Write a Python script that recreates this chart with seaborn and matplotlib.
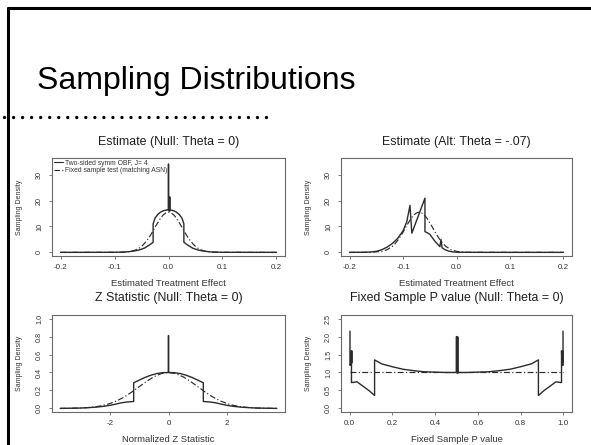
import numpy as np
import pandas as pd
import matplotlib
matplotlib.use('Agg')
import matplotlib.pyplot as plt
import seaborn as sns
from matplotlib.lines import Line2D

sns.set_style('white')
plt.rcParams['font.family'] = ['Liberation Sans', 'DejaVu Sans']
plt.rcParams['axes.unicode_minus'] = False

# --- valores ---
# Estimate (Null: Theta = 0)
null_solid_x = [-0.2, -0.15, -0.1, -0.08, -0.07, -0.062, -0.055, -0.045, -0.035, -0.0285, -0.0285,
                -0.025, -0.02, -0.015, -0.01, -0.005, 0.0, 0.0, 0.0, 0.005, 0.01, 0.015, 0.02, 0.025,
                0.0285, 0.0285, 0.035, 0.045, 0.055, 0.062, 0.07, 0.08, 0.1, 0.15, 0.2]
null_solid_y = [0, 0.01, 0.03, 0.15, 0.35, 0.6, 0.9, 1.6, 2.9, 3.9, 11.0,
                13.2, 14.6, 15.5, 16.0, 16.3, 16.4, 34.0, 16.4, 16.3, 16.0, 15.5, 14.6, 13.2,
                11.0, 3.9, 2.9, 1.6, 0.9, 0.6, 0.35, 0.15, 0.03, 0.01, 0]
null_thick_x = [0.0, 0.0]
null_thick_y = [16.4, 21.5]
null_dash_x = [-0.2, -0.09, -0.08, -0.07, -0.065, -0.06, -0.055, -0.05, -0.045, -0.04, -0.035, -0.03,
               -0.025, -0.02, -0.015, -0.01, -0.005, 0.0, 0.005, 0.01, 0.015, 0.02, 0.025, 0.03,
               0.035, 0.04, 0.045, 0.05, 0.055, 0.06, 0.065, 0.07, 0.08, 0.09, 0.2]
null_dash_y = [0, 0.03, 0.12, 0.38, 0.63, 1.0, 1.57, 2.3, 3.35, 4.6, 6.1, 7.8,
               9.7, 11.4, 13.1, 14.4, 15.2, 15.5, 15.2, 14.4, 13.1, 11.4, 9.7, 7.8,
               6.1, 4.6, 3.35, 2.3, 1.57, 1.0, 0.63, 0.38, 0.12, 0.03, 0]

# Estimate (Alt: Theta = -.07)
alt_solid_x = [-0.2, -0.17, -0.16, -0.15, -0.14, -0.13, -0.12, -0.11, -0.10, -0.093, -0.087, -0.0835,
               -0.059, -0.059, -0.055, -0.05, -0.045, -0.04, -0.035, -0.031, -0.029, -0.027, -0.022,
               -0.015, -0.008, 0.0, 0.05, 0.1, 0.15, 0.2]
alt_solid_y = [0, 0.05, 0.15, 0.4, 1.0, 2.0, 3.4, 5.4, 8.3, 11.8, 18.1, 7.4,
               20.9, 8.0, 7.6, 7.0, 5.6, 4.2, 3.1, 2.2, 5.0, 1.8, 1.1,
               0.5, 0.2, 0.05, 0, 0, 0, 0]
alt_dash_x = [-0.2, -0.16, -0.14, -0.13, -0.12, -0.115, -0.11, -0.105, -0.1, -0.095, -0.09, -0.085,
              -0.08, -0.075, -0.07, -0.065, -0.06, -0.055, -0.05, -0.045, -0.04, -0.035, -0.03,
              -0.025, -0.02, -0.01, 0.0, 0.02, 0.2]
alt_dash_y = [0, 0.03, 0.38, 1.0, 2.3, 3.35, 4.6, 6.1, 7.8, 9.7, 11.4, 13.1,
              14.4, 15.2, 15.5, 15.2, 14.4, 13.1, 11.4, 9.7, 7.8, 6.1, 4.6,
              3.35, 2.3, 1.0, 0.38, 0.03, 0]

# Z Statistic (Null: Theta = 0)
z_solid_x = [-3.7, -3.0, -2.5, -2.2, -2.0, -1.8, -1.6, -1.4, -1.19, -1.19, -1.0, -0.8, -0.6, -0.4,
             -0.2, 0.0, 0.0, 0.0, 0.2, 0.4, 0.6, 0.8, 1.0, 1.19, 1.19, 1.4, 1.6, 1.8, 2.0, 2.2,
             2.5, 3.0, 3.7]
z_solid_y = [0.0, 0.004, 0.013, 0.024, 0.034, 0.048, 0.063, 0.072, 0.077, 0.285, 0.315, 0.345, 0.37, 0.388,
             0.398, 0.40, 0.81, 0.40, 0.398, 0.388, 0.37, 0.345, 0.315, 0.285, 0.077, 0.072, 0.063, 0.048, 0.034, 0.024,
             0.013, 0.004, 0.0]
z_dash_x = [-3.7, -3.5, -3.25, -3.0, -2.75, -2.5, -2.25, -2.0, -1.75, -1.5, -1.25, -1.0, -0.75, -0.5,
            -0.25, 0.0, 0.25, 0.5, 0.75, 1.0, 1.25, 1.5, 1.75, 2.0, 2.25, 2.5, 2.75, 3.0, 3.25,
            3.5, 3.7]
z_dash_y = [0.0004, 0.0009, 0.002, 0.0044, 0.009, 0.018, 0.032, 0.054, 0.086, 0.130, 0.183, 0.242, 0.301, 0.352,
            0.387, 0.399, 0.387, 0.352, 0.301, 0.242, 0.183, 0.130, 0.086, 0.054, 0.032, 0.018, 0.009, 0.0044, 0.002,
            0.0009, 0.0004]

# Fixed Sample P value (Null: Theta = 0)
p_solid_x = [0.002, 0.002, 0.006, 0.009, 0.009, 0.012, 0.035, 0.06, 0.09, 0.117, 0.117, 0.15, 0.2,
             0.25, 0.3, 0.35, 0.4, 0.45, 0.5, 0.5, 0.5, 0.55, 0.6, 0.65, 0.7, 0.75, 0.8, 0.85,
             0.883, 0.883, 0.91, 0.94, 0.965, 0.988, 0.991, 0.991, 0.994, 0.998, 0.998]
p_solid_y = [2.15, 1.2, 1.25, 1.6, 0.72, 0.72, 0.74, 0.63, 0.5, 0.36, 1.35, 1.24, 1.16,
             1.09, 1.05, 1.02, 1.01, 1.0, 1.0, 2.0, 1.0, 1.0, 1.01, 1.02, 1.05, 1.09, 1.16, 1.24,
             1.35, 0.36, 0.5, 0.63, 0.74, 0.72, 0.72, 1.6, 1.25, 1.2, 2.15]
p_thick_x = [0.009, 0.009, 0.5, 0.5, 0.992, 0.992]
p_thick_y = [1.3, 1.6, 1.0, 2.0, 1.3, 1.6]
p_dash_x = [0.0, 1.0]
p_dash_y = [1.0, 1.0]

legend_labels = ['Two-sided symm OBF, J= 4', 'Fixed sample test (matching ASN)']

# --- estilo ---
cor_linha = '#2b2b2b'
cor_caixa = '#6a6a6a'
cor_texto = '#333333'
traco = (0, (5, 2, 1, 2))

fig = plt.figure(figsize=(5.91, 4.45), dpi=100)
fig.patch.set_facecolor('white')

# moldura do slide
fig.add_artist(Line2D([8 / 591, 8 / 591], [0, 1 - 8 / 445], transform=fig.transFigure, color='black', lw=2.2))
fig.add_artist(Line2D([8 / 591, 1], [1 - 8 / 445, 1 - 8 / 445], transform=fig.transFigure, color='black', lw=2.2))
fig.add_artist(Line2D([4 / 591, 270 / 591], [1 - 117 / 445, 1 - 117 / 445], transform=fig.transFigure,
                      color='black', lw=2.4, linestyle=(0, (0.01, 2.7)), dash_capstyle='round'))
fig.text(37 / 591, 1 - 89 / 445, 'Sampling Distributions', fontsize=23, color='black',
         ha='left', va='baseline')

posicoes = [
    [52 / 591, 189 / 445, 233 / 591, 98 / 445],
    [341 / 591, 189 / 445, 231 / 591, 98 / 445],
    [52 / 591, 33 / 445, 233 / 591, 97 / 445],
    [341 / 591, 33 / 445, 231 / 591, 97 / 445],
]
titulos = ['Estimate (Null: Theta = 0)', 'Estimate (Alt: Theta = -.07)',
           'Z Statistic (Null: Theta = 0)', 'Fixed Sample P value (Null: Theta = 0)']
xlabels = ['Estimated Treatment Effect', 'Estimated Treatment Effect',
           'Normalized Z Statistic', 'Fixed Sample P value']
xlims = [(-0.216, 0.216), (-0.216, 0.216), (-3.98, 3.98), (-0.04, 1.04)]
ylims = [(-1.4, 36.4), (-1.4, 36.4), (-0.04, 1.04), (-0.1, 2.6)]
xticks = [[-0.2, -0.1, 0.0, 0.1, 0.2], [-0.2, -0.1, 0.0, 0.1, 0.2], [-2, 0, 2],
          [0.0, 0.2, 0.4, 0.6, 0.8, 1.0]]
xticklabels = [['-0.2', '-0.1', '0.0', '0.1', '0.2'], ['-0.2', '-0.1', '0.0', '0.1', '0.2'],
               ['-2', '0', '2'], ['0.0', '0.2', '0.4', '0.6', '0.8', '1.0']]
yticks = [[0, 10, 20, 30], [0, 10, 20, 30], [0.0, 0.2, 0.4, 0.6, 0.8, 1.0],
          [0.0, 0.5, 1.0, 1.5, 2.0, 2.5]]
yticklabels = [['0', '10', '20', '30'], ['0', '10', '20', '30'],
               ['0.0', '0.2', '0.4', '0.6', '0.8', '1.0'], ['0.0', '0.5', '1.0', '1.5', '2.0', '2.5']]

solidos = [(null_solid_x, null_solid_y), (alt_solid_x, alt_solid_y),
           (z_solid_x, z_solid_y), (p_solid_x, p_solid_y)]
tracejados = [(null_dash_x, null_dash_y), (alt_dash_x, alt_dash_y),
              (z_dash_x, z_dash_y), (p_dash_x, p_dash_y)]

axes = []
for i in range(4):
    ax = fig.add_axes(posicoes[i])
    axes.append(ax)
    dx, dy = tracejados[i]
    sx, sy = solidos[i]
    sns.lineplot(x=dx, y=dy, ax=ax, sort=False, estimator=None, color=cor_linha,
                 lw=0.85, linestyle=traco)
    sns.lineplot(x=sx, y=sy, ax=ax, sort=False, estimator=None, color=cor_linha, lw=1.0)
    ax.set_xlim(*xlims[i])
    ax.set_ylim(*ylims[i])
    ax.set_xticks(xticks[i])
    ax.set_xticklabels(xticklabels[i])
    ax.set_yticks(yticks[i])
    ax.set_yticklabels(yticklabels[i], rotation=90, va='center')
    ax.tick_params(axis='both', direction='out', length=2.5, width=0.6, color=cor_caixa,
                   labelsize=5.8, labelcolor=cor_texto, bottom=True, left=True)
    ax.tick_params(axis='y', labelsize=5.2)
    ax.tick_params(axis='x', pad=3)
    ax.tick_params(axis='y', pad=4)
    for s in ax.spines.values():
        s.set_visible(True)
        s.set_color(cor_caixa)
        s.set_linewidth(0.8)
    ax.set_xlabel(xlabels[i], fontsize=6.8, color=cor_texto)
    ax.set_ylabel('Sampling Density', fontsize=5, color=cor_texto)
    ax.xaxis.set_label_coords(0.5, -0.235)
    ax.yaxis.set_label_coords(-0.125, 0.5)
    ytit = 1.163 if i < 2 else 1.175
    ax.text(0.5, ytit, titulos[i], transform=ax.transAxes, ha='center', va='center',
            fontsize=8.9, color='#1e1e1e')
    ax.set_facecolor('white')

# partes mais grossas dos picos
sns.lineplot(x=null_thick_x, y=null_thick_y, ax=axes[0], sort=False, estimator=None,
             color=cor_linha, lw=2.0)
for k in range(0, len(p_thick_x), 2):
    sns.lineplot(x=p_thick_x[k:k + 2], y=p_thick_y[k:k + 2], ax=axes[3], sort=False,
                 estimator=None, color=cor_linha, lw=2.0)

# legenda no primeiro painel
handles = [Line2D([], [], color=cor_linha, lw=0.8),
           Line2D([], [], color=cor_linha, lw=0.8, linestyle=traco)]
axes[0].legend(handles, legend_labels, loc='upper left', bbox_to_anchor=(0.0, 1.0),
               frameon=False, fontsize=4.9, handlelength=1.3, handletextpad=0.4,
               borderpad=0.1, labelspacing=0.05, borderaxespad=0.15, labelcolor=cor_texto)

plt.savefig('out.png', dpi=100)
plt.close()
